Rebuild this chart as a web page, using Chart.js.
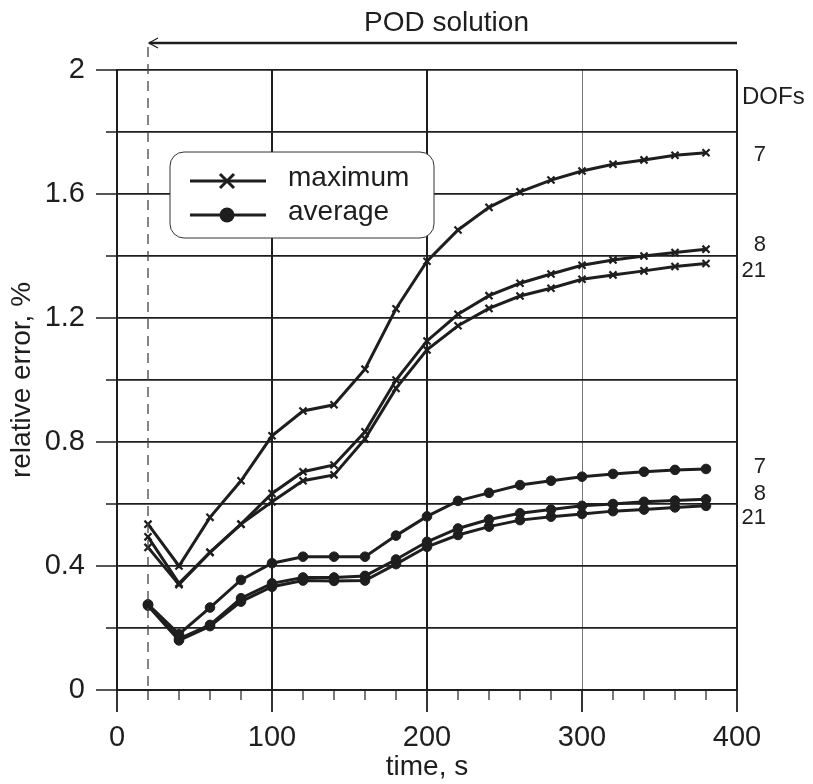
<!DOCTYPE html>
<html>
<head>
<meta charset="utf-8">
<style>
  html, body { margin: 0; padding: 0; background: #fff; }
  #wrap { width: 813px; height: 784px; }
</style>
</head>
<body>
<div id="wrap"><canvas id="chart" width="813" height="784"></canvas></div>
<script src="https://cdn.jsdelivr.net/npm/chart.js@4.4.1/dist/chart.umd.min.js"></script>
<script>
// time instants, s
const times = [20, 40, 60, 80, 100, 120, 140, 160, 180, 200, 220, 240, 260, 280, 300, 320, 340, 360, 380];

// maximum relative error, % (DOFs 7, 8, 21)
const max7  = [0.535, 0.40, 0.557, 0.675, 0.82, 0.90, 0.92, 1.035, 1.23, 1.383, 1.484, 1.557, 1.607, 1.645, 1.674, 1.696, 1.71, 1.725, 1.733];
const max8  = [0.494, 0.344, 0.444, 0.535, 0.634, 0.704, 0.726, 0.833, 1.0, 1.126, 1.212, 1.272, 1.312, 1.342, 1.37, 1.387, 1.40, 1.411, 1.422];
const max21 = [0.46, 0.34, 0.444, 0.535, 0.607, 0.675, 0.694, 0.81, 0.973, 1.097, 1.175, 1.231, 1.271, 1.296, 1.325, 1.339, 1.352, 1.366, 1.376];

// average relative error, %
const avg7  = [0.276, 0.18, 0.266, 0.355, 0.409, 0.43, 0.43, 0.43, 0.498, 0.56, 0.61, 0.636, 0.661, 0.675, 0.688, 0.697, 0.704, 0.71, 0.713];
const avg8  = [0.276, 0.165, 0.21, 0.296, 0.344, 0.363, 0.363, 0.368, 0.421, 0.478, 0.521, 0.55, 0.57, 0.582, 0.594, 0.60, 0.607, 0.611, 0.615];
const avg21 = [0.272, 0.16, 0.206, 0.285, 0.333, 0.353, 0.352, 0.353, 0.406, 0.462, 0.50, 0.527, 0.548, 0.559, 0.568, 0.577, 0.582, 0.589, 0.594];

const dofs = ["7", "8", "21"];
const legendLabels = ["maximum", "average"];
const xTickLabels = [0, 100, 200, 300, 400];
const yTickLabels = [0, 0.4, 0.8, 1.2, 1.6, 2];

const ink = "#1e1e1e";
const font = '"Liberation Sans", Arial, sans-serif';
Chart.defaults.font.family = font;
Chart.defaults.color = ink;

const toPts = (arr) => arr.map((v, i) => ({ x: times[i], y: v }));

function series(data, style) {
  return {
    data: toPts(data),
    borderColor: ink,
    backgroundColor: ink,
    borderWidth: 3,
    pointStyle: style,
    pointRadius: style === "circle" ? 4.8 : 5,
    pointBorderWidth: style === "circle" ? 1 : 2.2,
    pointBorderColor: ink,
    pointBackgroundColor: ink,
    tension: 0,
  };
}

// decorations: short ticks, dashed marker line, POD arrow, legend box, DOF labels
const extras = {
  id: "extras",
  afterDraw(chart) {
    const { ctx, chartArea: ca, scales: { x, y } } = chart;
    ctx.save();
    ctx.strokeStyle = ink;
    ctx.fillStyle = ink;

    // y ticks (long at labelled values)
    ctx.lineWidth = 1.5;
    for (let i = 0; i <= 10; i++) {
      const py = y.getPixelForValue(i * 0.2);
      const len = i % 2 === 0 ? 21 : 11;
      ctx.beginPath();
      ctx.moveTo(ca.left - len, py);
      ctx.lineTo(ca.left, py);
      ctx.stroke();
    }
    // x ticks
    for (let i = 0; i <= 20; i++) {
      const v = i * 20;
      const px = x.getPixelForValue(v);
      const len = v % 100 === 0 ? 22 : 10;
      ctx.lineWidth = v % 100 === 0 ? 1.8 : 1.2;
      ctx.beginPath();
      ctx.moveTo(px, ca.bottom);
      ctx.lineTo(px, ca.bottom + len);
      ctx.stroke();
    }

    // dashed line at start of POD solution
    const x20 = x.getPixelForValue(times[0]);
    const xEnd = x.getPixelForValue(400);
    const ay = ca.top - 27;
    ctx.lineWidth = 1.3;
    ctx.strokeStyle = "#444";
    ctx.setLineDash([10, 7]);
    ctx.beginPath();
    ctx.moveTo(x20, ay + 4);
    ctx.lineTo(x20, ca.bottom);
    ctx.stroke();
    ctx.setLineDash([]);

    // arrow
    ctx.strokeStyle = ink;
    ctx.lineWidth = 2.5;
    ctx.beginPath();
    ctx.moveTo(x20 + 1, ay);
    ctx.lineTo(xEnd, ay);
    ctx.stroke();
    ctx.lineWidth = 1.2;
    ctx.beginPath();
    ctx.moveTo(x20 + 10, ay - 5);
    ctx.lineTo(x20 + 1, ay);
    ctx.lineTo(x20 + 10, ay + 5);
    ctx.stroke();

    ctx.font = "28px " + font;
    ctx.textAlign = "center";
    ctx.textBaseline = "middle";
    ctx.fillText("POD solution", (x20 + xEnd) / 2 + 4, ay - 20);

    // legend box
    const lx = ca.left + 53, ly = ca.top + 82, lw = 264, lh = 86;
    ctx.fillStyle = "#fff";
    ctx.strokeStyle = "#333";
    ctx.lineWidth = 1;
    ctx.beginPath();
    ctx.roundRect(lx, ly, lw, lh, 14);
    ctx.fill();
    ctx.stroke();

    ctx.fillStyle = ink;
    ctx.strokeStyle = ink;
    const rows = [ly + 29, ly + 63];
    rows.forEach((ry, k) => {
      ctx.lineWidth = 3;
      ctx.beginPath();
      ctx.moveTo(lx + 20, ry);
      ctx.lineTo(lx + 96, ry);
      ctx.stroke();
      const mx = lx + 57;
      if (k === 0) {
        ctx.lineWidth = 3;
        ctx.beginPath();
        ctx.moveTo(mx - 7, ry - 7); ctx.lineTo(mx + 7, ry + 7);
        ctx.moveTo(mx - 7, ry + 7); ctx.lineTo(mx + 7, ry - 7);
        ctx.stroke();
      } else {
        ctx.beginPath();
        ctx.arc(mx, ry, 7.5, 0, Math.PI * 2);
        ctx.fill();
      }
      ctx.font = "28px " + font;
      ctx.textAlign = "left";
      ctx.textBaseline = "middle";
      ctx.fillText(legendLabels[k], lx + 118, ry - 3);
    });

    // DOF labels at the line ends
    ctx.font = "24px " + font;
    ctx.textAlign = "left";
    ctx.fillText("DOFs", ca.right + 5, ca.top + 27);
    ctx.font = "22px " + font;
    ctx.textAlign = "right";
    const lastMax = [max7, max8, max21].map((a) => y.getPixelForValue(a[a.length - 1]));
    const lastAvg = [avg7, avg8, avg21].map((a) => y.getPixelForValue(a[a.length - 1]));
    const offMax = [2, -4, 7];
    const offAvg = [-2, -5, 12];
    dofs.forEach((d, k) => {
      ctx.fillText(d, ca.right + 29, lastMax[k] + offMax[k]);
      ctx.fillText(d, ca.right + 29, lastAvg[k] + offAvg[k]);
    });

    ctx.restore();
  },
};

new Chart(document.getElementById("chart"), {
  type: "line",
  data: {
    datasets: [
      series(max7, "crossRot"),
      series(max8, "crossRot"),
      series(max21, "crossRot"),
      series(avg7, "circle"),
      series(avg8, "circle"),
      series(avg21, "circle"),
    ],
  },
  options: {
    responsive: false,
    animation: false,
    devicePixelRatio: 1,
    layout: { padding: { top: 70, right: 76, left: 0, bottom: 0 } },
    plugins: { legend: { display: false }, tooltip: { enabled: false } },
    scales: {
      x: {
        type: "linear",
        min: 0,
        max: 400,
        afterFit: (s) => { s.height = 94; },
        ticks: {
          stepSize: 20,
          autoSkip: false,
          maxRotation: 0,
          padding: 31,
          font: { size: 29 },
          color: ink,
          callback: (v) => (xTickLabels.includes(v) ? String(v) : ""),
        },
        grid: {
          drawTicks: false,
          color: (c) => {
            const v = c.tick.value;
            if (v === 300) return "#777";
            return v % 100 === 0 ? ink : "rgba(0,0,0,0)";
          },
          lineWidth: (c) => (c.tick.value === 300 ? 1 : 2),
        },
        border: { display: true, color: ink, width: 2 },
        title: {
          display: true,
          text: "time, s",
          font: { size: 28 },
          color: ink,
          padding: { top: 0, bottom: 0 },
        },
      },
      y: {
        min: 0,
        max: 2,
        afterFit: (s) => { s.width = 117; },
        ticks: {
          stepSize: 0.2,
          autoSkip: false,
          padding: 32,
          font: { size: 29 },
          color: ink,
          callback: (v) => {
            const r = Math.round(v * 10) / 10;
            return yTickLabels.includes(r) ? String(r) : "";
          },
        },
        grid: { drawTicks: false, color: ink, lineWidth: 1.8 },
        border: { display: true, color: ink, width: 2 },
        title: {
          display: true,
          text: "relative error, %",
          font: { size: 28 },
          color: ink,
          padding: { top: 5, bottom: 0 },
        },
      },
    },
  },
  plugins: [extras],
});
</script>
</body>
</html>
